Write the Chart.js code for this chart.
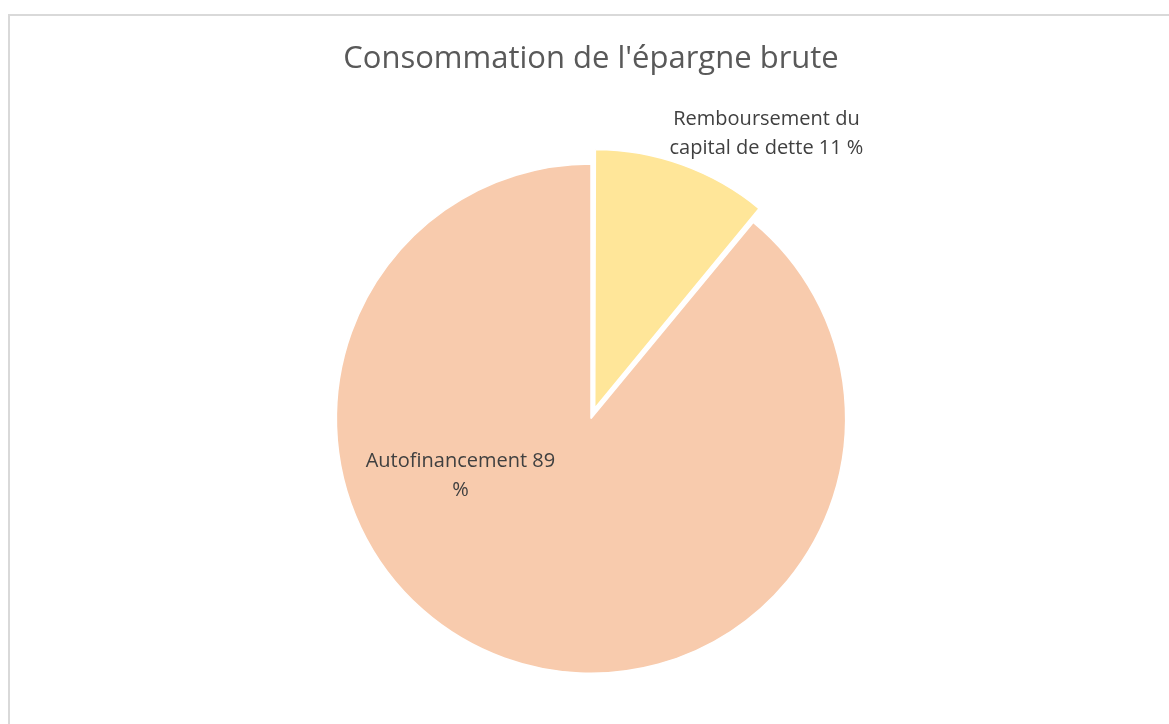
<!DOCTYPE html>
<html>
<head>
<meta charset="utf-8">
<script src="https://cdn.jsdelivr.net/npm/chart.js@4/dist/chart.umd.min.js"></script>
<style>
  html, body { margin: 0; padding: 0; background: #fff; overflow: hidden; }
  #frame { position: absolute; left: 8px; top: 14px; width: 1180px; height: 740px; border: 2px solid #d9d9d9; }
  #wrap { position: absolute; left: 0; top: 0; width: 1169px; height: 724px; }
</style>
</head>
<body>
<div id="frame"></div>
<div id="wrap"><canvas id="pie-chart"></canvas></div>
<script>
var labels = ["Remboursement du capital de dette", "Autofinancement"];
var values = [11, 89];
var labelLines = [["Remboursement du", "capital de dette 11 %"], ["Autofinancement 89", "%"]];
var colors = ['#ffe699', '#f8cbad'];

// where each label sits: angle from the top (clockwise, degrees) and distance as a share of the radius
var labelPlace = [{ angle: 31.6, dist: 1.315 }, { angle: 246.3, dist: 0.56 }];

var sliceLabels = {
  id: 'sliceLabels',
  afterDatasetsDraw: function (chart) {
    var ctx = chart.ctx;
    var arcs = chart.getDatasetMeta(0).data;
    ctx.save();
    ctx.font = '20px "Open Sans", sans-serif';
    ctx.fillStyle = '#404040';
    ctx.textAlign = 'center';
    ctx.textBaseline = 'middle';
    arcs.forEach(function (arc, i) {
      var p = arc.getProps(['x', 'y', 'outerRadius'], true);
      var a = (labelPlace[i].angle - 90) * Math.PI / 180;
      var cx = p.x + Math.cos(a) * p.outerRadius * labelPlace[i].dist;
      var cy = p.y + Math.sin(a) * p.outerRadius * labelPlace[i].dist;
      var lines = labelLines[i];
      var lh = 29;
      lines.forEach(function (t, j) {
        ctx.fillText(t, cx, cy + (j - (lines.length - 1) / 2) * lh);
      });
    });
    ctx.restore();
  }
};

var ctx = document.getElementById('pie-chart').getContext('2d');
new Chart(ctx, {
  type: 'pie',
  data: {
    labels: labels,
    datasets: [{
      data: values,
      backgroundColor: colors,
      borderColor: '#ffffff',
      borderWidth: 1.5,
      offset: [44, 0]
    }]
  },
  options: {
    responsive: true,
    maintainAspectRatio: false,
    animation: false,
    layout: { padding: { left: 13, right: 0, top: 0, bottom: 28 } },
    plugins: {
      legend: { display: false },
      tooltip: { enabled: false },
      title: {
        display: true,
        text: "Consommation de l'épargne brute",
        color: '#595959',
        font: { family: '"Open Sans", sans-serif', size: 31, weight: 'normal' },
        padding: { top: 41, bottom: 63 }
      }
    }
  },
  plugins: [sliceLabels]
});
</script>
</body>
</html>
